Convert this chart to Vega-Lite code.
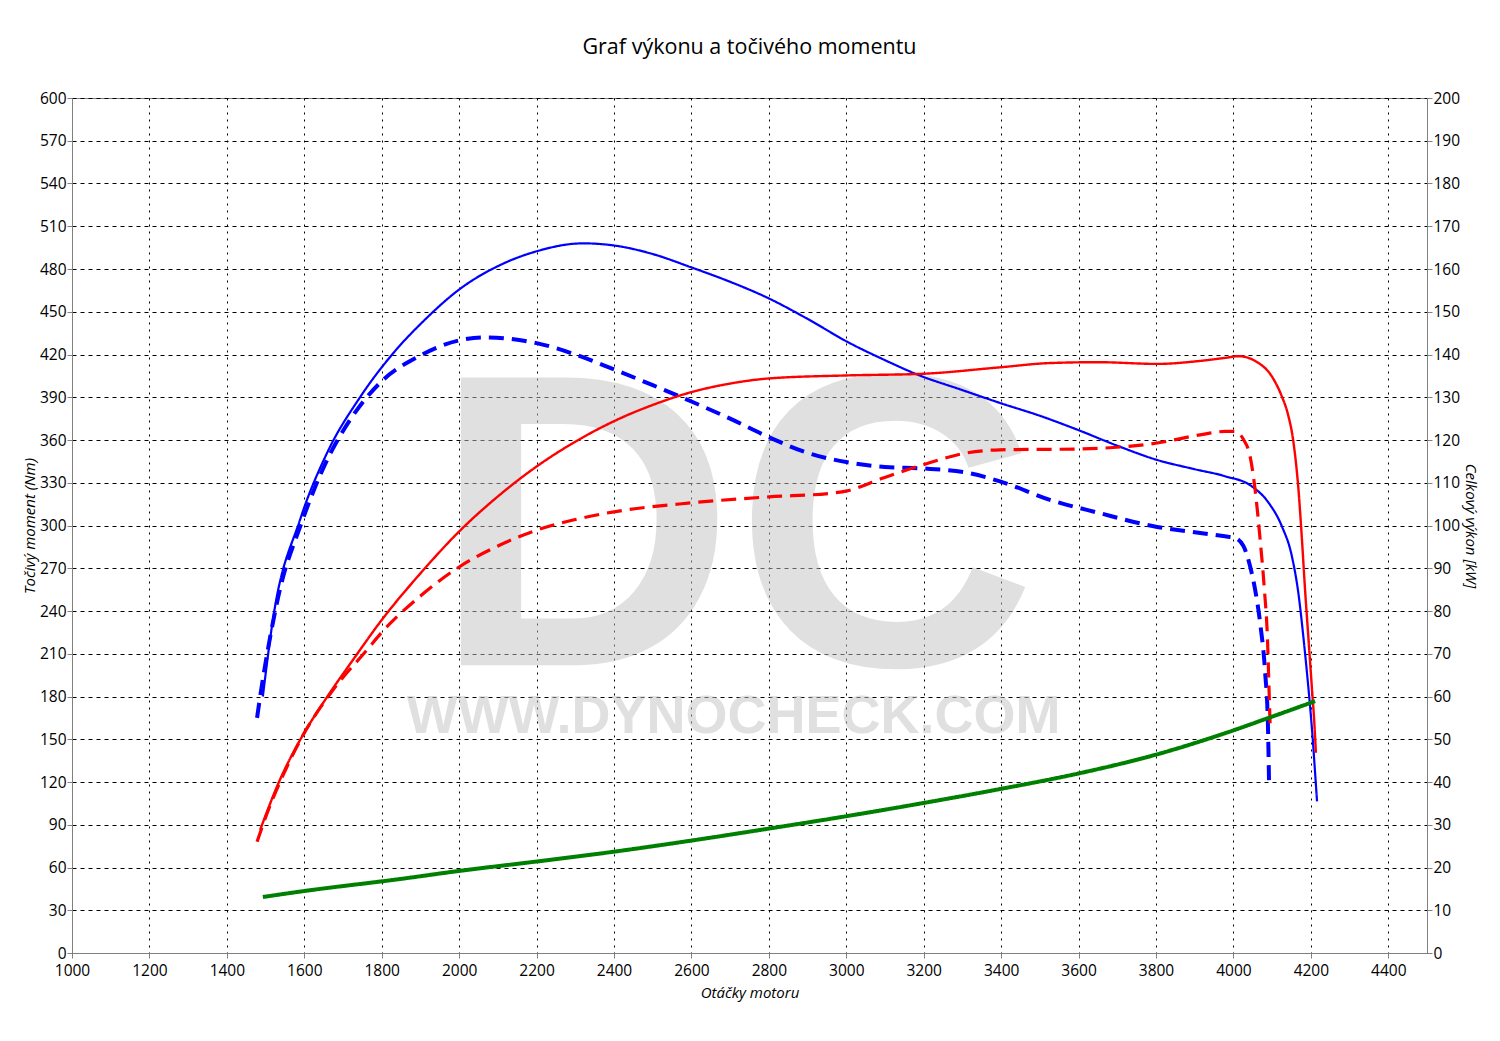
{
  "$schema": "https://vega.github.io/schema/vega-lite/v6.json",
  "autosize": "none",
  "width": 1355,
  "height": 855,
  "padding": {"left": 72, "top": 98, "right": 73, "bottom": 88},
  "background": "white",
  "title": {"text": "Graf výkonu a točivého momentu", "font": "Open Sans", "fontSize": 21.5, "fontWeight": "normal", "color": "#000", "anchor": "middle", "frame": "group", "offset": 33},
  "config": {
    "font": "Open Sans",
    "view": {"stroke": "#808080", "strokeWidth": 1},
    "axis": {"labelFont": "Open Sans", "labelFontSize": 15.5, "labelColor": "#000", "labelFlush": false, "labelOverlap": false, "domainColor": "#808080", "tickColor": "#808080", "tickSize": 5, "titleFont": "Open Sans", "titleFontSize": 15, "titleFontStyle": "italic", "titleFontWeight": "normal", "titleColor": "#000"}
  },
  "datasets": {
    "wm_big": [{"rpm": 2712, "nm": 202, "label": "DC"}],
    "wm_small": [{"rpm": 2709, "nm": 154.4, "label": "WWW.DYNOCHECK.COM"}],
    "torque": [
      {"rpm": 1493, "nm": 180, "series": "tuned"},
      {"rpm": 1519, "nm": 234, "series": "tuned"},
      {"rpm": 1589, "nm": 304, "series": "tuned"},
      {"rpm": 1659, "nm": 351, "series": "tuned"},
      {"rpm": 1744, "nm": 390, "series": "tuned"},
      {"rpm": 1830, "nm": 421, "series": "tuned"},
      {"rpm": 1910, "nm": 444, "series": "tuned"},
      {"rpm": 2002, "nm": 466, "series": "tuned"},
      {"rpm": 2100, "nm": 482, "series": "tuned"},
      {"rpm": 2201, "nm": 492.5, "series": "tuned"},
      {"rpm": 2320, "nm": 498, "series": "tuned"},
      {"rpm": 2400, "nm": 496.5, "series": "tuned"},
      {"rpm": 2500, "nm": 490.5, "series": "tuned"},
      {"rpm": 2601, "nm": 481, "series": "tuned"},
      {"rpm": 2700, "nm": 471, "series": "tuned"},
      {"rpm": 2795, "nm": 460, "series": "tuned"},
      {"rpm": 2900, "nm": 445, "series": "tuned"},
      {"rpm": 3002, "nm": 429, "series": "tuned"},
      {"rpm": 3100, "nm": 416, "series": "tuned"},
      {"rpm": 3183, "nm": 406, "series": "tuned"},
      {"rpm": 3300, "nm": 395, "series": "tuned"},
      {"rpm": 3397, "nm": 386, "series": "tuned"},
      {"rpm": 3500, "nm": 377, "series": "tuned"},
      {"rpm": 3599, "nm": 367, "series": "tuned"},
      {"rpm": 3700, "nm": 356, "series": "tuned"},
      {"rpm": 3803, "nm": 346, "series": "tuned"},
      {"rpm": 3900, "nm": 339.5, "series": "tuned"},
      {"rpm": 3978, "nm": 334.6, "series": "tuned"},
      {"rpm": 4047, "nm": 327.6, "series": "tuned"},
      {"rpm": 4091, "nm": 315.9, "series": "tuned"},
      {"rpm": 4125, "nm": 299.5, "series": "tuned"},
      {"rpm": 4151, "nm": 278.4, "series": "tuned"},
      {"rpm": 4168, "nm": 252, "series": "tuned"},
      {"rpm": 4181, "nm": 221, "series": "tuned"},
      {"rpm": 4190, "nm": 196.5, "series": "tuned"},
      {"rpm": 4198, "nm": 173, "series": "tuned"},
      {"rpm": 4205, "nm": 149.6, "series": "tuned"},
      {"rpm": 4211, "nm": 126.2, "series": "tuned"},
      {"rpm": 4216, "nm": 106.4, "series": "tuned"},
      {"rpm": 1478, "nm": 165, "series": "stock"},
      {"rpm": 1486, "nm": 180, "series": "stock"},
      {"rpm": 1506, "nm": 213, "series": "stock"},
      {"rpm": 1537, "nm": 255, "series": "stock"},
      {"rpm": 1589, "nm": 299, "series": "stock"},
      {"rpm": 1659, "nm": 346, "series": "stock"},
      {"rpm": 1718, "nm": 374, "series": "stock"},
      {"rpm": 1803, "nm": 402, "series": "stock"},
      {"rpm": 1891, "nm": 418, "series": "stock"},
      {"rpm": 2002, "nm": 430, "series": "stock"},
      {"rpm": 2062, "nm": 432, "series": "stock"},
      {"rpm": 2200, "nm": 428, "series": "stock"},
      {"rpm": 2300, "nm": 420, "series": "stock"},
      {"rpm": 2400, "nm": 409.5, "series": "stock"},
      {"rpm": 2500, "nm": 398.5, "series": "stock"},
      {"rpm": 2600, "nm": 387, "series": "stock"},
      {"rpm": 2700, "nm": 375, "series": "stock"},
      {"rpm": 2800, "nm": 362, "series": "stock"},
      {"rpm": 2900, "nm": 351, "series": "stock"},
      {"rpm": 3000, "nm": 344.5, "series": "stock"},
      {"rpm": 3100, "nm": 341, "series": "stock"},
      {"rpm": 3200, "nm": 340, "series": "stock"},
      {"rpm": 3312, "nm": 337, "series": "stock"},
      {"rpm": 3397, "nm": 331, "series": "stock"},
      {"rpm": 3526, "nm": 318, "series": "stock"},
      {"rpm": 3650, "nm": 309, "series": "stock"},
      {"rpm": 3803, "nm": 299, "series": "stock"},
      {"rpm": 3900, "nm": 295.3, "series": "stock"},
      {"rpm": 3978, "nm": 292.4, "series": "stock"},
      {"rpm": 4004, "nm": 291.3, "series": "stock"},
      {"rpm": 4026, "nm": 285.5, "series": "stock"},
      {"rpm": 4043, "nm": 271.4, "series": "stock"},
      {"rpm": 4056, "nm": 255, "series": "stock"},
      {"rpm": 4069, "nm": 231.6, "series": "stock"},
      {"rpm": 4082, "nm": 196.5, "series": "stock"},
      {"rpm": 4089, "nm": 161.4, "series": "stock"},
      {"rpm": 4092, "nm": 119.3, "series": "stock"}
    ],
    "power": [
      {"rpm": 1486, "kw": 28.8, "series": "tuned"},
      {"rpm": 1537, "kw": 40.5, "series": "tuned"},
      {"rpm": 1589, "kw": 49.8, "series": "tuned"},
      {"rpm": 1659, "kw": 59.9, "series": "tuned"},
      {"rpm": 1726, "kw": 68.6, "series": "tuned"},
      {"rpm": 1800, "kw": 77.9, "series": "tuned"},
      {"rpm": 1900, "kw": 88.8, "series": "tuned"},
      {"rpm": 2000, "kw": 98.6, "series": "tuned"},
      {"rpm": 2100, "kw": 106.8, "series": "tuned"},
      {"rpm": 2200, "kw": 113.8, "series": "tuned"},
      {"rpm": 2300, "kw": 119.6, "series": "tuned"},
      {"rpm": 2400, "kw": 124.4, "series": "tuned"},
      {"rpm": 2500, "kw": 128.2, "series": "tuned"},
      {"rpm": 2600, "kw": 131.2, "series": "tuned"},
      {"rpm": 2700, "kw": 133.2, "series": "tuned"},
      {"rpm": 2800, "kw": 134.4, "series": "tuned"},
      {"rpm": 3000, "kw": 135.1, "series": "tuned"},
      {"rpm": 3200, "kw": 135.5, "series": "tuned"},
      {"rpm": 3397, "kw": 137, "series": "tuned"},
      {"rpm": 3526, "kw": 138, "series": "tuned"},
      {"rpm": 3650, "kw": 138.2, "series": "tuned"},
      {"rpm": 3803, "kw": 137.8, "series": "tuned"},
      {"rpm": 3914, "kw": 138.5, "series": "tuned"},
      {"rpm": 3978, "kw": 139.2, "series": "tuned"},
      {"rpm": 4013, "kw": 139.6, "series": "tuned"},
      {"rpm": 4065, "kw": 138, "series": "tuned"},
      {"rpm": 4099, "kw": 134.9, "series": "tuned"},
      {"rpm": 4125, "kw": 130.2, "series": "tuned"},
      {"rpm": 4140, "kw": 126.3, "series": "tuned"},
      {"rpm": 4155, "kw": 119.5, "series": "tuned"},
      {"rpm": 4168, "kw": 108.4, "series": "tuned"},
      {"rpm": 4177, "kw": 96.7, "series": "tuned"},
      {"rpm": 4185, "kw": 85, "series": "tuned"},
      {"rpm": 4194, "kw": 73.3, "series": "tuned"},
      {"rpm": 4203, "kw": 61.6, "series": "tuned"},
      {"rpm": 4209, "kw": 53.8, "series": "tuned"},
      {"rpm": 4213, "kw": 46.8, "series": "tuned"},
      {"rpm": 1478, "kw": 26, "series": "stock"},
      {"rpm": 1504, "kw": 32.7, "series": "stock"},
      {"rpm": 1555, "kw": 43.5, "series": "stock"},
      {"rpm": 1597, "kw": 51, "series": "stock"},
      {"rpm": 1674, "kw": 61.5, "series": "stock"},
      {"rpm": 1762, "kw": 70.9, "series": "stock"},
      {"rpm": 1800, "kw": 75, "series": "stock"},
      {"rpm": 1900, "kw": 83.5, "series": "stock"},
      {"rpm": 2000, "kw": 90.3, "series": "stock"},
      {"rpm": 2100, "kw": 95.2, "series": "stock"},
      {"rpm": 2200, "kw": 98.9, "series": "stock"},
      {"rpm": 2300, "kw": 101.4, "series": "stock"},
      {"rpm": 2400, "kw": 103.2, "series": "stock"},
      {"rpm": 2600, "kw": 105.3, "series": "stock"},
      {"rpm": 2800, "kw": 106.7, "series": "stock"},
      {"rpm": 2966, "kw": 107.6, "series": "stock"},
      {"rpm": 3002, "kw": 108.1, "series": "stock"},
      {"rpm": 3095, "kw": 111.1, "series": "stock"},
      {"rpm": 3198, "kw": 114.2, "series": "stock"},
      {"rpm": 3312, "kw": 117, "series": "stock"},
      {"rpm": 3397, "kw": 117.7, "series": "stock"},
      {"rpm": 3599, "kw": 117.9, "series": "stock"},
      {"rpm": 3803, "kw": 119.3, "series": "stock"},
      {"rpm": 3914, "kw": 121.2, "series": "stock"},
      {"rpm": 3978, "kw": 122, "series": "stock"},
      {"rpm": 4004, "kw": 122, "series": "stock"},
      {"rpm": 4026, "kw": 120.1, "series": "stock"},
      {"rpm": 4043, "kw": 116.2, "series": "stock"},
      {"rpm": 4056, "kw": 108.4, "series": "stock"},
      {"rpm": 4069, "kw": 96.7, "series": "stock"},
      {"rpm": 4080, "kw": 85, "series": "stock"},
      {"rpm": 4088, "kw": 73.3, "series": "stock"},
      {"rpm": 4092, "kw": 61.6, "series": "stock"},
      {"rpm": 4095, "kw": 52.6, "series": "stock"},
      {"rpm": 1493, "kw": 13.1, "series": "loss"},
      {"rpm": 1600, "kw": 14.5, "series": "loss"},
      {"rpm": 1847, "kw": 17.3, "series": "loss"},
      {"rpm": 2000, "kw": 19.2, "series": "loss"},
      {"rpm": 2200, "kw": 21.4, "series": "loss"},
      {"rpm": 2400, "kw": 23.7, "series": "loss"},
      {"rpm": 2600, "kw": 26.3, "series": "loss"},
      {"rpm": 2800, "kw": 29.1, "series": "loss"},
      {"rpm": 3000, "kw": 32, "series": "loss"},
      {"rpm": 3200, "kw": 35.1, "series": "loss"},
      {"rpm": 3400, "kw": 38.4, "series": "loss"},
      {"rpm": 3600, "kw": 42, "series": "loss"},
      {"rpm": 3800, "kw": 46.4, "series": "loss"},
      {"rpm": 3978, "kw": 51.4, "series": "loss"},
      {"rpm": 4091, "kw": 55, "series": "loss"},
      {"rpm": 4211, "kw": 58.9, "series": "loss"}
    ]
  },
  "layer": [
    {
      "layer": [
        {
          "data": {"name": "wm_big"},
          "mark": {"type": "text", "font": "Liberation Sans", "fontWeight": "bold", "fontSize": 418, "align": "center", "baseline": "alphabetic", "color": "#c2c2c2", "opacity": 0.5},
          "encoding": {
            "x": {"field": "rpm", "type": "quantitative", "scale": {"domain": [1000, 4500], "nice": false}},
            "y": {"field": "nm", "type": "quantitative", "scale": {"domain": [0, 600], "nice": false}},
            "text": {"field": "label"}
          }
        },
        {
          "data": {"name": "wm_small"},
          "mark": {"type": "text", "font": "Liberation Sans", "fontWeight": "bold", "fontSize": 54, "align": "center", "baseline": "alphabetic", "color": "#c2c2c2", "opacity": 0.5},
          "encoding": {
            "x": {"field": "rpm", "type": "quantitative"},
            "y": {"field": "nm", "type": "quantitative"},
            "text": {"field": "label"}
          }
        },
        {
          "data": {"name": "torque"},
          "mark": {"type": "line", "interpolate": "monotone", "strokeCap": "butt"},
          "encoding": {
            "x": {"field": "rpm", "type": "quantitative", "scale": {"domain": [1000, 4500], "nice": false},
              "axis": {"title": "Otáčky motoru", "values": [1000,1200,1400,1600,1800,2000,2200,2400,2600,2800,3000,3200,3400,3600,3800,4000,4200,4400], "format": "d", "grid": true, "gridColor": "#000", "gridDash": [2, 5], "gridOpacity": 1, "gridWidth": 1, "labelPadding": 5, "titlePadding": 7}},
            "y": {"field": "nm", "type": "quantitative", "scale": {"domain": [0, 600], "nice": false},
              "axis": {"orient": "left", "title": "Točivý moment (Nm)", "values": [0,30,60,90,120,150,180,210,240,270,300,330,360,390,420,450,480,510,540,570,600], "format": "d", "grid": true, "gridColor": "#000", "gridDash": [4, 4], "gridOpacity": 1, "gridWidth": 1, "labelPadding": 1, "titlePadding": 2}},
            "detail": {"field": "series"},
            "color": {"field": "series", "type": "nominal", "scale": {"domain": ["tuned", "stock"], "range": ["#0000ff", "#0000ff"]}, "legend": null},
            "strokeDash": {"field": "series", "type": "nominal", "scale": {"domain": ["tuned", "stock"], "range": [[1, 0], [15, 8]]}, "legend": null},
            "strokeWidth": {"field": "series", "type": "nominal", "scale": {"domain": ["tuned", "stock"], "range": [2.2, 4]}, "legend": null}
          }
        }
      ]
    },
    {
      "data": {"name": "power"},
      "mark": {"type": "line", "interpolate": "monotone", "strokeCap": "butt"},
      "encoding": {
        "x": {"field": "rpm", "type": "quantitative"},
        "y": {"field": "kw", "type": "quantitative", "scale": {"domain": [0, 200], "nice": false},
          "axis": {"orient": "right", "title": "Celkový výkon [kW]", "values": [0,10,20,30,40,50,60,70,80,90,100,110,120,130,140,150,160,170,180,190,200], "format": "d", "grid": false, "labelPadding": 1, "titlePadding": 3}},
        "detail": {"field": "series"},
        "color": {"field": "series", "type": "nominal", "scale": {"domain": ["tuned", "stock", "loss"], "range": ["#ff0000", "#ff0000", "#008000"]}, "legend": null},
        "strokeDash": {"field": "series", "type": "nominal", "scale": {"domain": ["tuned", "stock", "loss"], "range": [[1, 0], [15, 8], [1, 0]]}, "legend": null},
        "strokeWidth": {"field": "series", "type": "nominal", "scale": {"domain": ["tuned", "stock", "loss"], "range": [2.4, 4, 2.2]}, "legend": null}
      }
    }
  ],
  "resolve": {"scale": {"y": "independent", "color": "independent", "strokeDash": "independent", "strokeWidth": "independent"}}
}
